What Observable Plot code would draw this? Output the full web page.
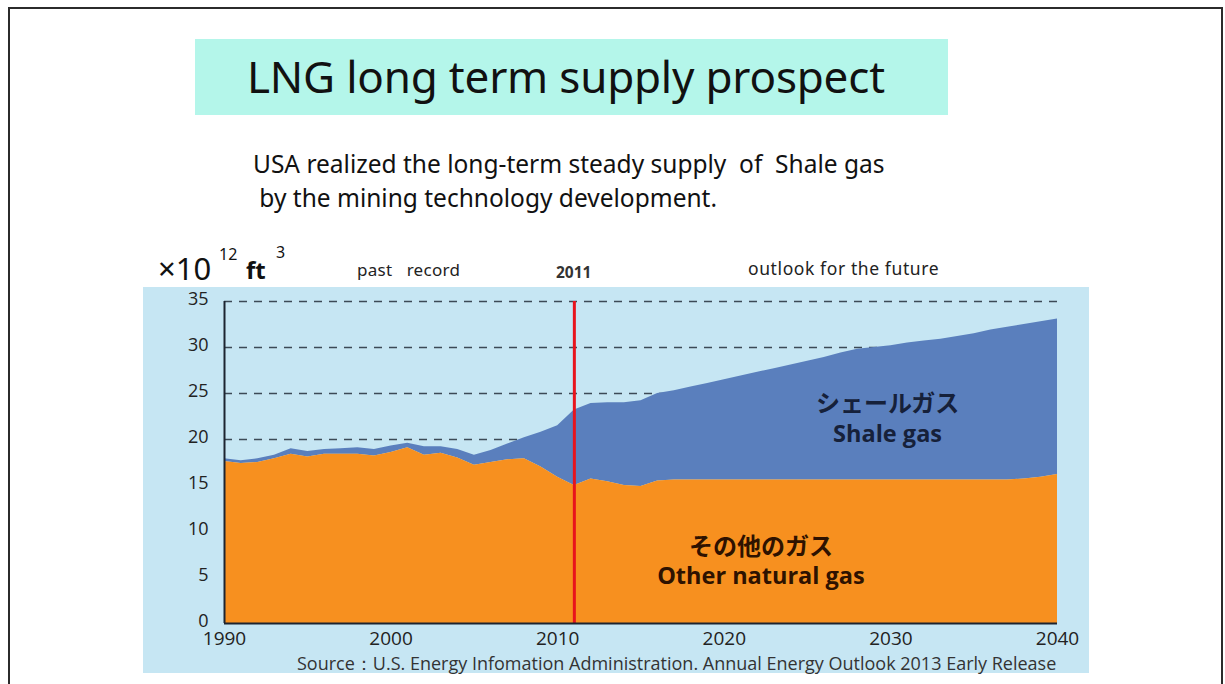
<!DOCTYPE html>
<html>
<head>
<meta charset="utf-8">
<script src="https://cdn.jsdelivr.net/npm/d3@7"></script>
<script src="https://cdn.jsdelivr.net/npm/@observablehq/plot@0.6"></script>
<style>
  html, body { margin: 0; padding: 0; background: #ffffff; }
  body { width: 1225px; height: 684px; position: relative; overflow: hidden; font-family: "Noto Sans", sans-serif; }
  .abs { position: absolute; white-space: pre; }
  .tight { line-height: 1; }
  #frame { position: absolute; left: 8px; top: 7px; width: 1215px; height: 700px; border: 2px solid #2b2b2b; border-bottom: none; box-sizing: border-box; }
  #titlebox { position: absolute; left: 195px; top: 39px; width: 753px; height: 76px; background: #b4f6ea; }
  #title { left: 247px; top: 46px; font-size: 44px; color: #111; font-family: "Noto Sans", sans-serif; letter-spacing: -0.2px; }
  .sub { font-size: 24.5px; color: #111; font-family: "Noto Sans", sans-serif; }
  #panel { position: absolute; left: 143px; top: 287px; width: 946px; height: 386px; background: #c6e6f3; }
  #chart { position: absolute; left: 143px; top: 287px; }
  #source { left: 297px; top: 654px; font-size: 18px; line-height: 18px; color: #333; font-family: "Open Sans", sans-serif; }
</style>
</head>
<body>
<div id="frame"></div>
<div id="titlebox"></div>
<div class="abs" id="title">LNG long term supply prospect</div>
<div class="abs sub" style="left:253px; top:147px;">USA realized the long-term steady supply  of  Shale gas</div>
<div class="abs sub" style="left:253px; top:181px;"> by the mining technology development.</div>

<div class="abs tight" style="left:158px; top:253px; font-size:31px; height:28px; color:#111; font-family:'Noto Sans';">×10</div>
<div class="abs tight" style="left:219px; top:246px; font-size:16px; color:#111;">12</div>
<div class="abs tight" style="left:246px; top:258px; font-size:24px; font-weight:700; color:#111;">ft</div>
<div class="abs tight" style="left:276px; top:244px; font-size:16px; color:#111;">3</div>
<div class="abs" style="left:357px; top:258px; font-size:17px; color:#222; letter-spacing:0.3px;">past   record</div>
<div class="abs" style="left:556px; top:261px; font-size:15.5px; font-weight:700; color:#333; font-family:'Open Sans';">2011</div>
<div class="abs" style="left:748px; top:256px; font-size:17.5px; color:#222; letter-spacing:0.6px;">outlook for the future</div>

<div id="panel"></div>
<div id="chart"></div>
<div class="abs" id="source">Source：U.S. Energy Infomation Administration. Annual Energy Outlook 2013 Early Release</div>

<script>
const years = [1990,1991,1992,1993,1994,1995,1996,1997,1998,1999,
  2000,2001,2002,2003,2004,2005,2006,2007,2008,2009,
  2010,2011,2012,2013,2014,2015,2016,2017,2018,2019,
  2020,2021,2022,2023,2024,2025,2026,2027,2028,2029,
  2030,2031,2032,2033,2034,2035,2036,2037,2038,2039,2040];

// Other natural gas (top of orange area), ×10^12 ft^3
const otherGas = [17.6,17.4,17.5,17.9,18.4,18.1,18.4,18.4,18.4,18.2,
  18.6,19.1,18.3,18.5,18.0,17.2,17.5,17.8,17.9,17.0,
  15.9,15.0,15.7,15.4,15.0,14.9,15.5,15.6,15.6,15.6,
  15.6,15.6,15.6,15.6,15.6,15.6,15.6,15.6,15.6,15.6,
  15.6,15.6,15.6,15.6,15.6,15.6,15.6,15.6,15.7,15.9,16.2];

// Total supply (top of blue shale area), ×10^12 ft^3
const totalGas = [17.9,17.7,17.9,18.3,19.0,18.7,18.9,19.0,19.1,18.9,
  19.3,19.6,19.2,19.2,18.9,18.3,18.8,19.5,20.2,20.8,
  21.5,23.2,23.9,24.0,24.0,24.2,25.0,25.3,25.7,26.1,
  26.5,26.9,27.3,27.7,28.1,28.5,28.9,29.4,29.8,30.0,
  30.2,30.5,30.7,30.9,31.2,31.5,31.9,32.2,32.5,32.8,33.1];

const xTicks = [1990, 2000, 2010, 2020, 2030, 2040];
const yTicks = [0, 5, 10, 15, 20, 25, 30, 35];
const gridTicks = [20, 25, 30, 35];
const markerYear = 2011;

const labelTexts = [
  {x: 2029.8, y: 23.8, text: "シェールガス", jp: true, color: "#16213a"},
  {x: 2029.8, y: 20.6, text: "Shale gas", jp: false, color: "#16213a"},
  {x: 2022.2, y: 8.3, text: "その他のガス", jp: true, color: "#2e1200"},
  {x: 2022.2, y: 5.1, text: "Other natural gas", jp: false, color: "#2e1200"}
];

const rows = years.map((year, i) => ({year, other: otherGas[i], total: totalGas[i]}));

const chart = Plot.plot({
  width: 946,
  height: 386,
  marginLeft: 81,
  marginRight: 32,
  marginTop: 14,
  marginBottom: 50,
  style: {background: "transparent", fontFamily: "Open Sans", fontSize: "18px", color: "#222", overflow: "visible"},
  x: {domain: [1990, 2040], label: null},
  y: {domain: [0, 35], label: null},
  marks: [
    Plot.ruleY(gridTicks, {x1: 1990, x2: 2040, stroke: "#3c4a56", strokeWidth: 1.6, strokeDasharray: "8,7"}),
    Plot.areaY(rows, {x: "year", y1: "other", y2: "total", fill: "#5a7fbd"}),
    Plot.areaY(rows, {x: "year", y1: 0, y2: "other", fill: "#f7901f"}),
    Plot.ruleX([markerYear], {y1: 0, y2: 35, stroke: "#e8141c", strokeWidth: 3}),
    Plot.ruleX([1990], {y1: 0, y2: 35, stroke: "#1c2430", strokeWidth: 2}),
    Plot.ruleY([0], {x1: 1990, x2: 2040, stroke: "#1c2430", strokeWidth: 2}),
    Plot.axisX({ticks: xTicks, tickFormat: d => String(d), tickSize: 0, tickPadding: 8, fontSize: 19, label: null}),
    Plot.axisY({ticks: yTicks, tickSize: 0, tickPadding: 16, fontSize: 18, dy: -2, label: null}),
    Plot.text(labelTexts.filter(d => d.jp), {x: "x", y: "y", text: "text", fill: "color", fontSize: 24, fontWeight: 700, fontFamily: "Noto Sans CJK JP"}),
    Plot.text(labelTexts.filter(d => !d.jp), {x: "x", y: "y", text: "text", fill: "color", fontSize: 23.5, fontWeight: 700, fontFamily: "Open Sans"})
  ]
});
document.getElementById("chart").appendChild(chart);
</script>
</body>
</html>
